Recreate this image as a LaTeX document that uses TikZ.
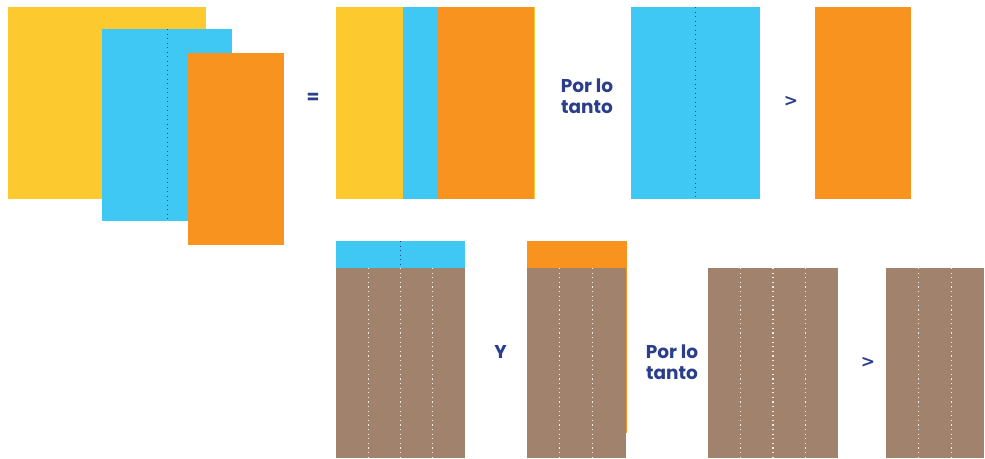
\documentclass[tikz,border=0pt]{standalone}
\usepackage{fontspec}
\usepackage{tikz}
\setsansfont{Poppins}
\newfontfamily\signfont{DejaVu Sans}
\definecolor{sunny}{RGB}{252,202,46}
\definecolor{sky}{RGB}{64,200,244}
\definecolor{tang}{RGB}{247,147,30}
\definecolor{mud}{RGB}{161,130,108}
\definecolor{ink}{RGB}{43,62,140}
\begin{document}
\begin{tikzpicture}
            [x=1pt,y=-1pt,every node/.style={font=\sffamily\bfseries\fontsize{18.5}{20.5}\selectfont,text=ink,align=center,inner sep=0pt},
             sign/.style={font=\signfont\bfseries\fontsize{17}{17}\selectfont},
             fold/.style={line width=1.1pt,ink,dash pattern=on 1pt off 3.5pt},
             cut/.style={line width=1.2pt,white!85!mud,dash pattern=on 1.2pt off 3.4pt}]
            \useasboundingbox (0,0) rectangle (985,458);
            % overlapping sheets
            \fill[sunny] (8,7) rectangle (206,199);
            \fill[sky] (102,29) rectangle (232,221);
            \draw[fold] (167.5,29) -- (167.5,221);
            \fill[tang] (188,53) rectangle (284,245);
            \node (eq) at (313,98) {=};
            % side by side
            \fill[sunny] (336,7) rectangle (535,199);
            \fill[sky] (403,7) rectangle (438,199);
            \fill[tang] (438,7) rectangle (534,199);
            \node (so1) at (587,96) {Por lo\\tanto};
            \fill[sky] (631,7) rectangle (760,199);
            \draw[fold] (695.5,7) -- (695.5,199);
            \node[sign] (gt1) at (791,101) {>};
            \fill[tang] (815,7) rectangle (911,199);
            % second row
            \fill[sky] (336,241) rectangle (465,268);
            \draw[fold] (400.5,241) -- (400.5,268);
            \fill[mud] (336,268) rectangle (465,458);
            \foreach \x in {368.25,400.5,432.75}
                \draw[cut] (\x,268) -- (\x,458);
            \node (and) at (500.5,352) {Y};
            \fill[tang] (527,241) rectangle (627,433);
            \fill[mud] (527,268) rectangle (626,458);
            \foreach \x in {559.5,592.5}
                \draw[cut] (\x,268) -- (\x,458);
            \node (so2) at (672,362) {Por lo\\tanto};
            \fill[mud] (708,268) rectangle (838,458);
            \foreach \x in {740.5,773,805.5}
                \draw[cut] (\x,268) -- (\x,458);
            \node[sign] (gt2) at (868,362) {>};
            \fill[mud] (886,268) rectangle (984,458);
            \foreach \x in {918.5,951.5}
                \draw[cut] (\x,268) -- (\x,458);
        \end{tikzpicture}
\end{document}
